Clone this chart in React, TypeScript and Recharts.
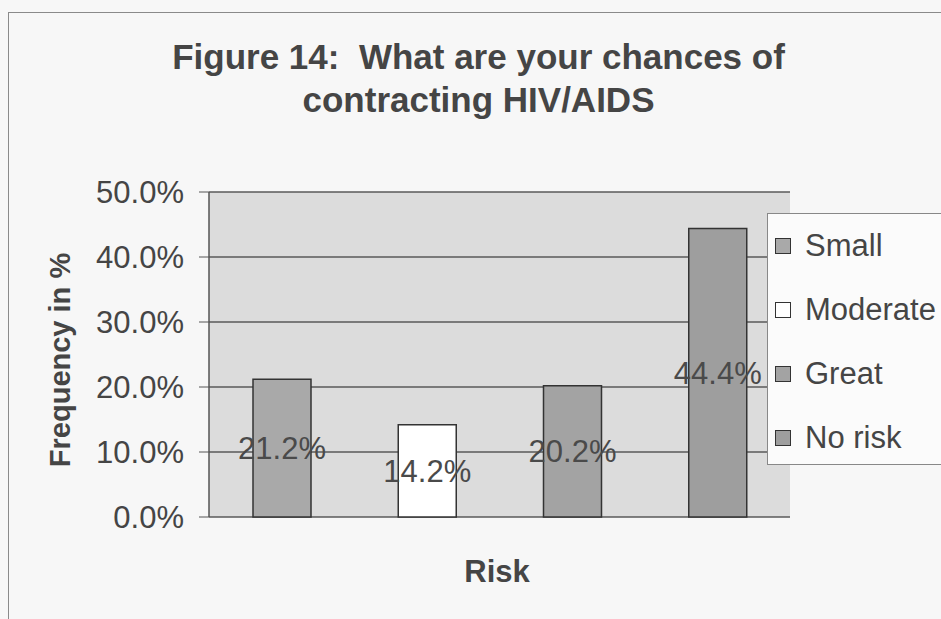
import { BarChart, Bar, Cell, XAxis, YAxis, CartesianGrid, LabelList } from "recharts"

// risk categories and the share of respondents in each
const categories = ["Small", "Moderate", "Great", "No risk"]
const frequency = [21.2, 14.2, 20.2, 44.4]
const yTicks = [0, 10, 20, 30, 40, 50]
const barColors = ["#a9a9a9", "#ffffff", "#a3a3a3", "#9e9e9e"]

const data = categories.map((name, i) => ({ name, value: frequency[i] }))

const FONT = "'Liberation Sans', Arial, sans-serif"
const TEXT = "#454545"

export default function App() {
  return (
    <div
      style={{
        position: "absolute",
        left: 0,
        top: 0,
        width: 941,
        height: 619,
        background: "#f7f7f7",
        fontFamily: FONT,
        color: TEXT,
        overflow: "hidden",
      }}
    >
      {/* outer chart frame */}
      <div
        style={{
          position: "absolute",
          left: 8,
          top: 12,
          width: 960,
          height: 620,
          borderTop: "1.5px solid #8a8a8a",
          borderLeft: "1.5px solid #8a8a8a",
        }}
      />
      <div
        style={{
          position: "absolute",
          left: 0,
          width: 957,
          top: 35,
          textAlign: "center",
          fontWeight: "bold",
          fontSize: 35,
          lineHeight: "43px",
        }}
      >
        Figure 14:&nbsp; What are your chances of
        <br />
        contracting HIV/AIDS
      </div>

      <BarChart
        width={941}
        height={619}
        data={data}
        margin={{ top: 192, right: 151, bottom: 102, left: 89 }}
        style={{ position: "absolute", left: 0, top: 0 }}
      >
        <CartesianGrid yAxisId="l" vertical={false} stroke="#5a5a5a" strokeWidth={1.5} fill="#dcdcdc" />
        <XAxis dataKey="name" tick={false} tickLine={false} height={0} axisLine={{ stroke: "#555", strokeWidth: 1.5 }} />
        <YAxis
          yAxisId="l"
          width={120}
          domain={[0, 50]}
          ticks={yTicks}
          interval={0}
          tickFormatter={(v: number) => `${v.toFixed(1)}%`}
          tick={{ fill: TEXT, fontSize: 31, fontFamily: FONT }}
          tickSize={10}
          tickMargin={15}
          tickLine={{ stroke: "#555" }}
          axisLine={{ stroke: "#555", strokeWidth: 1.5 }}
        />
        <YAxis yAxisId="r" orientation="right" width={0} domain={[0, 50]} tick={false} tickLine={false} axisLine={{ stroke: "#666", strokeWidth: 1.5 }} />
        <Bar yAxisId="l" dataKey="value" barSize={58} stroke="#333" strokeWidth={1.5} isAnimationActive={false}>
          {data.map((d, i) => (
            <Cell key={d.name} fill={barColors[i]} />
          ))}
          <LabelList
            dataKey="value"
            position="center"
            formatter={(v: number) => `${v}%`}
            style={{ fill: "#4a4a4a", fontSize: 31, fontFamily: FONT }}
          />
        </Bar>
      </BarChart>

      {/* axis titles */}
      <div
        style={{
          position: "absolute",
          left: 60,
          top: 360,
          transform: "translate(-50%, -50%) rotate(-90deg)",
          whiteSpace: "nowrap",
          fontWeight: "bold",
          fontSize: 29,
        }}
      >
        Frequency in %
      </div>
      <div
        style={{
          position: "absolute",
          left: 497,
          top: 572,
          transform: "translate(-50%, -50%)",
          fontWeight: "bold",
          fontSize: 31,
        }}
      >
        Risk
      </div>

      {/* legend */}
      <div
        style={{
          position: "absolute",
          left: 767,
          top: 213,
          width: 200,
          height: 252,
          background: "#fbfbfb",
          border: "1.5px solid #888",
          boxSizing: "border-box",
        }}
      >
        {categories.map((c, i) => (
          <div
            key={c}
            style={{
              position: "absolute",
              left: 7,
              top: 14 + i * 64,
              height: 36,
              display: "flex",
              alignItems: "center",
              fontSize: 31,
              whiteSpace: "nowrap",
            }}
          >
            <span
              style={{
                display: "inline-block",
                width: 14,
                height: 14,
                background: barColors[i],
                border: "1.5px solid #333",
                marginRight: 14,
              }}
            />
            {c}
          </div>
        ))}
      </div>
    </div>
  )
}
